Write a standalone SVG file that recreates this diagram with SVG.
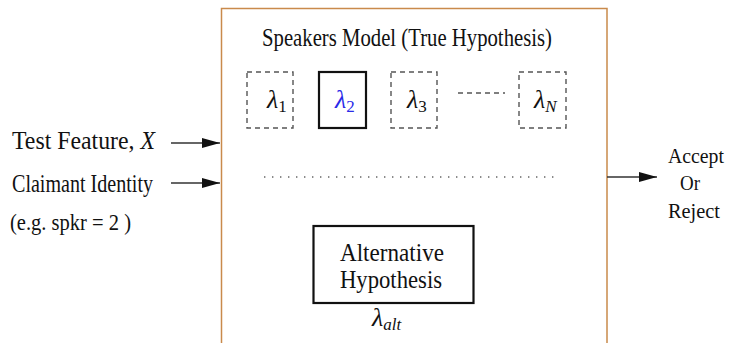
<svg xmlns="http://www.w3.org/2000/svg" width="731" height="343" viewBox="0 0 731 343">
  <style>
    .lbl { font-family: 'Liberation Serif', 'Times New Roman', serif; fill: #111; }
    .math { font-family: 'Liberation Serif', 'Times New Roman', serif; font-style: italic; fill: #111; }
    .dash { fill: none; stroke: #555; stroke-width: 1.4; stroke-dasharray: 5 4; }
    .solid { fill: none; stroke: #111; stroke-width: 2.2; }
    .conn { stroke: #333; stroke-width: 1.5; fill: none; }
  </style>
  <defs>
    <marker id="ah" markerWidth="18" markerHeight="10" refX="18" refY="5" orient="auto" markerUnits="userSpaceOnUse">
      <path d="M0,0 L18,5 L0,10 Z" fill="#111"/>
    </marker>
  </defs>
  <rect width="731" height="343" fill="#fff"/>

  <!-- verifier frame, open at the bottom -->
  <g id="frame">
    <path d="M221.5,343 V8.5 H607 V343" fill="none" stroke="#c98a4b" stroke-width="1.5"/>
    <text class="lbl" x="262" y="46" font-size="26" textLength="290" lengthAdjust="spacingAndGlyphs">Speakers Model (True Hypothesis)</text>
  </g>

  <!-- speaker models -->
  <g id="model1">
    <rect class="dash" x="247" y="72" width="46" height="56"/>
    <text class="math" x="267" y="108" font-size="26">λ<tspan font-style="normal" font-size="17" dy="4">1</tspan></text>
  </g>
  <g id="model2">
    <rect class="solid" x="319" y="72" width="47" height="56"/>
    <text class="math" x="335" y="108" font-size="26" style="fill:#2a2ae8">λ<tspan font-style="normal" font-size="17" dy="4">2</tspan></text>
  </g>
  <g id="model3">
    <rect class="dash" x="391" y="72" width="46" height="56"/>
    <text class="math" x="407" y="108" font-size="26">λ<tspan font-style="normal" font-size="17" dy="4">3</tspan></text>
  </g>
  <g id="modelN">
    <rect class="dash" x="519" y="72" width="47" height="56"/>
    <text class="math" x="534" y="108" font-size="26">λ<tspan font-size="17" dy="4">N</tspan></text>
  </g>

  <!-- alternative hypothesis -->
  <g id="alternative">
    <rect class="solid" x="313.5" y="226" width="160" height="77"/>
    <text class="lbl" x="340" y="261" font-size="25" textLength="104" lengthAdjust="spacingAndGlyphs">Alternative</text>
    <text class="lbl" x="340" y="288" font-size="25" textLength="102" lengthAdjust="spacingAndGlyphs">Hypothesis</text>
    <text class="math" x="372" y="326" font-size="26">λ<tspan font-size="17" dy="4">alt</tspan></text>
  </g>

  <!-- inputs -->
  <g id="inputs">
    <text class="lbl" x="12" y="149" font-size="26" textLength="143" lengthAdjust="spacingAndGlyphs">Test Feature, <tspan font-style="italic">X</tspan></text>
    <text class="lbl" x="12" y="192" font-size="25" textLength="141" lengthAdjust="spacingAndGlyphs">Claimant Identity</text>
    <text class="lbl" x="10" y="230" font-size="23" textLength="121" lengthAdjust="spacingAndGlyphs">(e.g. spkr = 2 )</text>
  </g>

  <!-- decision -->
  <g id="decision">
    <text class="lbl" x="668" y="163" font-size="22" textLength="56" lengthAdjust="spacingAndGlyphs">Accept</text>
    <text class="lbl" x="680" y="190" font-size="22" textLength="20" lengthAdjust="spacingAndGlyphs">Or</text>
    <text class="lbl" x="668" y="218" font-size="22" textLength="52" lengthAdjust="spacingAndGlyphs">Reject</text>
  </g>

  <!-- connectors -->
  <g id="connectors">
    <line class="conn" x1="171" y1="143" x2="220" y2="143" marker-end="url(#ah)"/>
    <line class="conn" x1="171" y1="183" x2="220" y2="183" marker-end="url(#ah)"/>
    <line class="conn" x1="607" y1="177" x2="657" y2="177" marker-end="url(#ah)"/>
    <line x1="458" y1="93" x2="505" y2="93" stroke="#555" stroke-width="1.4" stroke-dasharray="5 4"/>
    <line x1="264" y1="177" x2="555" y2="177" stroke="#666" stroke-width="1.4" stroke-dasharray="1.4 6.6"/>
  </g>
</svg>
